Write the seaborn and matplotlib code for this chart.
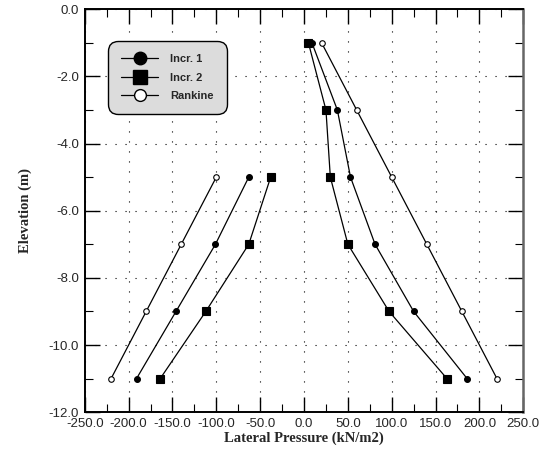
import matplotlib
matplotlib.use("Agg")
import matplotlib.pyplot as plt
from matplotlib.lines import Line2D
from matplotlib.ticker import MultipleLocator, FormatStrFormatter
import seaborn as sns
import pandas as pd

# values
elev_right = [-1, -3, -5, -7, -9, -11]
incr1_right = [9, 38, 53, 81, 125, 186]
incr2_right = [5, 25, 30, 50, 97, 163]
rankine_right = [20, 60, 100, 140, 180, 220]

elev_left = [-5, -7, -9, -11]
incr1_left = [-63, -101, -146, -191]
incr2_left = [-38, -63, -112, -164]
rankine_left = [-100, -140, -180, -220]

series_names = ["Incr. 1", "Incr. 2", "Rankine"]

rows = []
for name, right, left in zip(series_names,
                             [incr1_right, incr2_right, rankine_right],
                             [incr1_left, incr2_left, rankine_left]):
    for p, e in zip(right, elev_right):
        rows.append({"series": name, "side": "right", "pressure": p, "elevation": e})
    for p, e in zip(left, elev_left):
        rows.append({"series": name, "side": "left", "pressure": p, "elevation": e})
df = pd.DataFrame(rows)

sns.set_style("ticks")
plt.rcParams["font.family"] = ["Liberation Sans", "DejaVu Sans"]

fig = plt.figure(figsize=(5.4, 4.58), dpi=100)
ax = fig.add_axes([0.157, 0.1, 0.812, 0.88])

marker_style = {
    "Incr. 1": dict(marker="o", ms=4.2, mfc="black", mec="black"),
    "Incr. 2": dict(marker="s", ms=5.8, mfc="black", mec="black"),
    "Rankine": dict(marker="o", ms=4, mfc="white", mec="black"),
}

for name in series_names:
    for side in ["right", "left"]:
        sub = df[(df.series == name) & (df.side == side)]
        sns.lineplot(data=sub, x="pressure", y="elevation", sort=False,
                     estimator=None, color="black", lw=0.9, mew=0.8,
                     ax=ax, legend=False, **marker_style[name])

ax.set_xlim(-250, 250)
ax.set_ylim(-12, 0)
ax.xaxis.set_major_locator(MultipleLocator(50))
ax.xaxis.set_minor_locator(MultipleLocator(25))
ax.yaxis.set_major_locator(MultipleLocator(2))
ax.yaxis.set_minor_locator(MultipleLocator(1))
ax.xaxis.set_major_formatter(FormatStrFormatter("%.1f"))
ax.yaxis.set_major_formatter(FormatStrFormatter("%.1f"))
ax.tick_params(which="major", direction="in", length=11, width=1, labelsize=9.5,
               top=True, right=True, color="black", pad=4)
ax.tick_params(which="minor", direction="in", length=6, width=0.8,
               top=True, right=True, color="black")

ax.grid(True, which="major", color="black", linestyle=(0, (1, 8)), linewidth=0.8)

for s in ["left", "bottom", "top"]:
    ax.spines[s].set_linewidth(1.4)
    ax.spines[s].set_color("black")
ax.spines["right"].set_linewidth(1.8)
ax.spines["right"].set_color("#666666")

ax.set_xlabel("Lateral Pressure (kN/m2)", family=["Liberation Serif", "DejaVu Serif"],
              fontweight="bold", fontsize=10.5, labelpad=1)
ax.set_ylabel("Elevation (m)", family=["Liberation Serif", "DejaVu Serif"],
              fontweight="bold", fontsize=10.5, labelpad=12)

handles = [
    Line2D([], [], color="black", lw=0.9, marker="o", ms=9, mfc="black", mec="black"),
    Line2D([], [], color="black", lw=0.9, marker="s", ms=9.5, mfc="black", mec="black"),
    Line2D([], [], color="black", lw=0.9, marker="o", ms=8.5, mfc="white", mec="black"),
]
leg = ax.legend(handles, series_names, loc="upper left", bbox_to_anchor=(0.04, 0.935),
                frameon=True, fancybox=True, handlelength=3.3, handletextpad=1.1,
                borderpad=1.2, labelspacing=0.75, prop={"weight": "bold", "size": 8})
frame = leg.get_frame()
frame.set_facecolor("#dcdcdc")
frame.set_edgecolor("black")
frame.set_linewidth(1.0)
frame.set_alpha(1)
frame.set_boxstyle("round", pad=0.0, rounding_size=0.9)

fig.savefig("out.png", dpi=100)
